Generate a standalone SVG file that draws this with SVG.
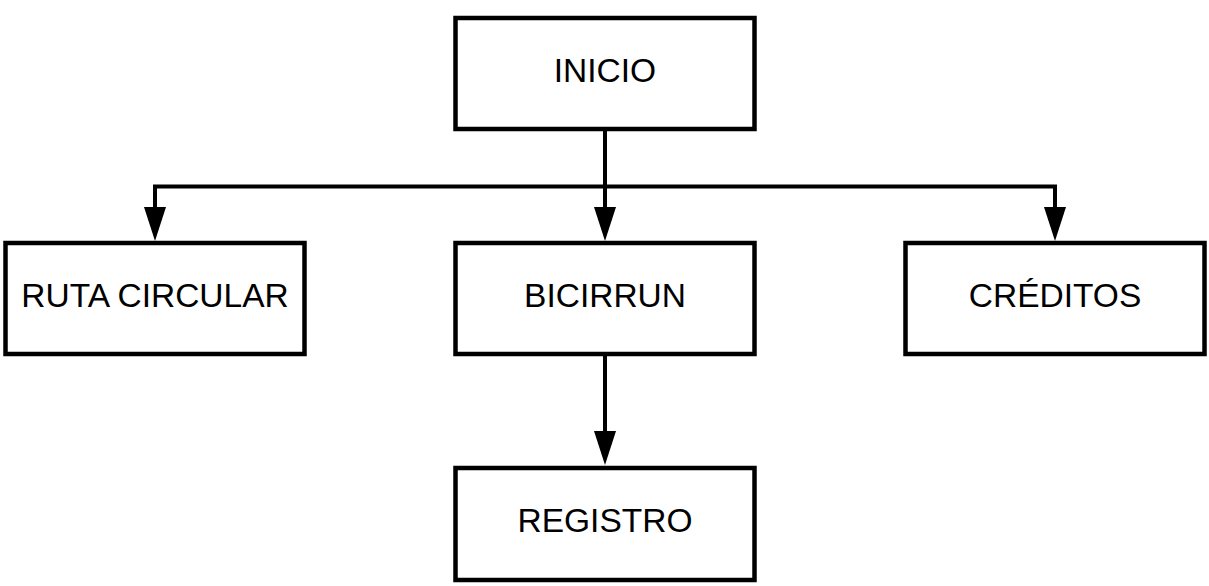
<svg xmlns="http://www.w3.org/2000/svg" width="1209" height="586" viewBox="0 0 1209 586">
<style>
.box{fill:#fff;stroke:#000;stroke-width:4.5}
.lbl{font-family:"Liberation Sans",Arial,sans-serif;font-size:33.5px;fill:#000;text-anchor:middle}
.conn{fill:none;stroke:#000;stroke-width:4;stroke-linejoin:miter}
</style>
<defs>
<marker id="arr" markerUnits="userSpaceOnUse" viewBox="0 -11 34 22" refX="0" refY="0" markerWidth="34" markerHeight="22" orient="auto">
<path d="M0,-11 L34,0 L0,11 Z" fill="#000"/>
</marker>
</defs>
<rect width="1209" height="586" fill="#fff"/>
<g id="connectors">
<path class="conn" d="M605,130 V207" marker-end="url(#arr)"/>
<path class="conn" d="M605,186.5 H155 V207" marker-end="url(#arr)"/>
<path class="conn" d="M605,186.5 H1055 V207" marker-end="url(#arr)"/>
<path class="conn" d="M605,356 V431" marker-end="url(#arr)"/>
</g>
<g id="inicio">
<rect class="box" x="455.5" y="18" width="299" height="111"/>
<text class="lbl" x="605" y="81.5">INICIO</text>
</g>
<g id="ruta-circular">
<rect class="box" x="5.5" y="243" width="299" height="111"/>
<text class="lbl" x="155" y="306.5">RUTA CIRCULAR</text>
</g>
<g id="bicirrun">
<rect class="box" x="455.5" y="243" width="299" height="111"/>
<text class="lbl" x="605" y="306.5">BICIRRUN</text>
</g>
<g id="creditos">
<rect class="box" x="905.5" y="243" width="299" height="111"/>
<text class="lbl" x="1055" y="306.5">CRÉDITOS</text>
</g>
<g id="registro">
<rect class="box" x="455.5" y="468" width="299" height="112"/>
<text class="lbl" x="605" y="532">REGISTRO</text>
</g>
</svg>
